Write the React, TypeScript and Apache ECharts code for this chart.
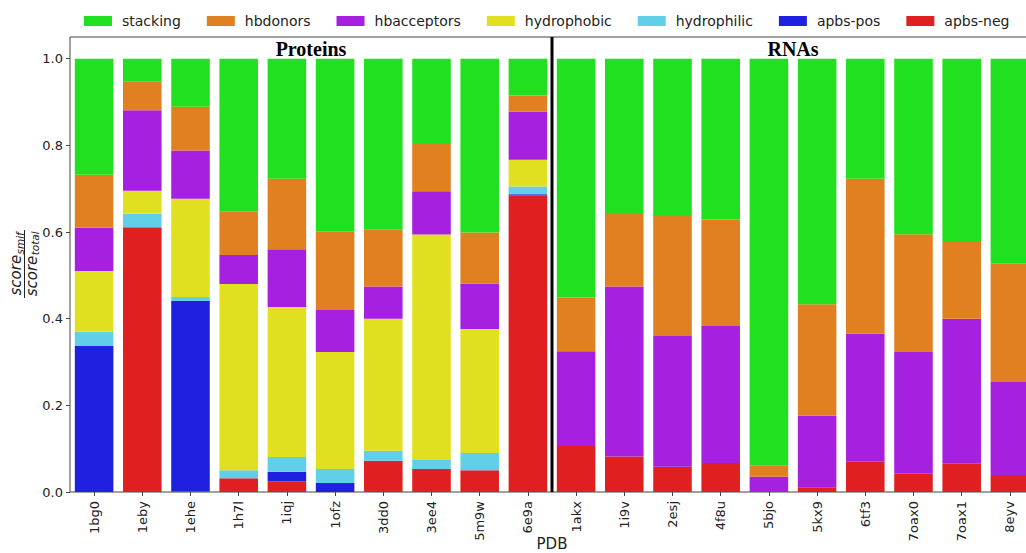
import React, { useEffect, useRef } from "react";
import * as echarts from "echarts";

const categories = ["1bg0", "1eby", "1ehe", "1h7l", "1iqj", "1ofz", "3dd0", "3ee4", "5m9w", "6e9a", "1akx", "1i9v", "2esj", "4f8u", "5bjo", "5kx9", "6tf3", "7oax0", "7oax1", "8eyv"];
const apbsNeg = [0, 0.611, 0.002, 0.032, 0.025, 0, 0.072, 0.053, 0.05, 0.685, 0.106, 0.082, 0.058, 0.067, 0, 0.011, 0.07, 0.042, 0.065, 0.039];
const apbsPos = [0.337, 0, 0.439, 0, 0.022, 0.021, 0, 0, 0, 0.002, 0, 0, 0, 0, 0, 0, 0, 0, 0, 0];
const hydrophilic = [0.033, 0.031, 0.009, 0.018, 0.034, 0.032, 0.023, 0.021, 0.04, 0.018, 0, 0, 0, 0, 0, 0, 0, 0, 0, 0];
const hydrophobic = [0.14, 0.053, 0.227, 0.43, 0.346, 0.27, 0.305, 0.52, 0.286, 0.062, 0, 0, 0, 0, 0, 0, 0, 0, 0, 0];
const hbacceptors = [0.1, 0.186, 0.111, 0.067, 0.133, 0.097, 0.074, 0.1, 0.105, 0.111, 0.219, 0.392, 0.302, 0.316, 0.035, 0.165, 0.296, 0.281, 0.335, 0.215];
const hbdonors = [0.122, 0.066, 0.101, 0.1, 0.163, 0.182, 0.131, 0.109, 0.118, 0.037, 0.124, 0.17, 0.279, 0.246, 0.027, 0.257, 0.357, 0.272, 0.177, 0.274];
const stacking = [0.268, 0.053, 0.111, 0.353, 0.277, 0.398, 0.395, 0.197, 0.401, 0.085, 0.551, 0.356, 0.361, 0.371, 0.938, 0.567, 0.277, 0.405, 0.423, 0.472];
const yTicks = [0, 0.2, 0.4, 0.6, 0.8, 1.0];
const groupTitles = ["Proteins", "RNAs"];
const xAxisTitle = "PDB";

const seriesDefs = [
  { name: "apbs-neg", data: apbsNeg, color: "#e02020" },
  { name: "apbs-pos", data: apbsPos, color: "#2020e0" },
  { name: "hydrophilic", data: hydrophilic, color: "#62cfe9" },
  { name: "hydrophobic", data: hydrophobic, color: "#e0e020" },
  { name: "hbacceptors", data: hbacceptors, color: "#a620e0" },
  { name: "hbdonors", data: hbdonors, color: "#e08020" },
  { name: "stacking", data: stacking, color: "#20e020" },
];
const legendOrder = ["stacking", "hbdonors", "hbacceptors", "hydrophobic", "hydrophilic", "apbs-pos", "apbs-neg"];

const FONT = "DejaVu Sans";

export default function App() {
  const ref = useRef<HTMLDivElement>(null);
  useEffect(() => {
    if (!ref.current) return;
    const chart = echarts.init(ref.current, undefined, { renderer: "svg" });
    const option: any = {
      animation: false,
      backgroundColor: "#ffffff",
      textStyle: { fontFamily: FONT },
      legend: {
        data: legendOrder,
        left: 84,
        top: 14,
        width: 1000,
        padding: 0,
        itemWidth: 28,
        itemHeight: 10,
        itemGap: 26,
        icon: "rect",
        textStyle: { fontFamily: FONT, fontSize: 14, color: "#222", padding: [0, 0, 0, 5] },
      },
      grid: {
        left: 70,
        top: 37,
        width: 964,
        height: 455,
        show: true,
        borderColor: "#444",
        borderWidth: 1,
        backgroundColor: "transparent",
        containLabel: false,
        outerBoundsMode: "none",
      },
      xAxis: {
        type: "category",
        data: categories,
        boundaryGap: true,
        axisLine: { show: false },
        axisTick: { show: true, alignWithLabel: true, length: 4, lineStyle: { color: "#444" } },
        axisLabel: { rotate: 90, fontSize: 13, fontFamily: FONT, color: "#222", margin: 9, interval: 0 },
      },
      yAxis: {
        type: "value",
        min: 0,
        max: 1.05,
        interval: 0.2,
        splitLine: { show: false },
        axisLine: { show: false },
        axisTick: { show: true, length: 4, lineStyle: { color: "#444" }, customValues: yTicks },
        axisLabel: {
          fontSize: 13,
          fontFamily: FONT,
          color: "#222",
          margin: 7,
          customValues: yTicks,
          formatter: (v: number) => v.toFixed(1),
        },
      },
      series: seriesDefs.map((s) => ({
        name: s.name,
        type: "bar",
        stack: "total",
        barWidth: "80%",
        data: s.data,
        itemStyle: { color: s.color },
      })),
    };
    chart.setOption(option);

    const px = (c: string) => chart.convertToPixel({ xAxisIndex: 0 }, c) as number;
    const py = (v: number) => chart.convertToPixel({ yAxisIndex: 0 }, v) as number;
    const xDiv = (px(categories[9]) + px(categories[10])) / 2;
    const yTop = py(1.05);
    const yBot = py(0);
    const protCenter = (px(categories[0]) + px(categories[9])) / 2;
    const rnaCenter = (px(categories[10]) + px(categories[19])) / 2;
    const axisCenter = (px(categories[0]) + px(categories[19])) / 2;

    const labelMain = 15;
    const labelSub = 10.5;
    const italic = { fontFamily: FONT, fontStyle: "italic", fill: "#222" };

    chart.setOption({
      graphic: [
        {
          type: "line",
          shape: { x1: xDiv, y1: yTop, x2: xDiv, y2: yBot },
          style: { stroke: "#000", lineWidth: 3 },
          z: 100,
        },
        {
          type: "text",
          x: protCenter,
          y: 49,
          style: {
            text: groupTitles[0],
            fontFamily: "Liberation Serif",
            fontWeight: "bold",
            fontSize: 20,
            fill: "#000",
            align: "center",
            verticalAlign: "middle",
          },
          z: 100,
        },
        {
          type: "text",
          x: rnaCenter,
          y: 49,
          style: {
            text: groupTitles[1],
            fontFamily: "Liberation Serif",
            fontWeight: "bold",
            fontSize: 20,
            fill: "#000",
            align: "center",
            verticalAlign: "middle",
          },
          z: 100,
        },
        {
          type: "text",
          x: axisCenter,
          y: 544,
          style: {
            text: xAxisTitle,
            fontFamily: FONT,
            fontSize: 15,
            fill: "#222",
            align: "center",
            verticalAlign: "middle",
          },
        },
        {
          type: "group",
          x: 24.5,
          y: 264,
          rotation: Math.PI / 2,
          children: [
            { type: "text", x: -31.5, y: -1, style: { ...italic, text: "score", fontSize: labelMain, align: "left", verticalAlign: "bottom" } },
            { type: "text", x: 9.5, y: 1, style: { ...italic, text: "smif", fontSize: labelSub, align: "left", verticalAlign: "bottom" } },
            { type: "line", shape: { x1: -34, y1: 0, x2: 34, y2: 0 }, style: { stroke: "#222", lineWidth: 1 } },
            { type: "text", x: -32.3, y: 0, style: { ...italic, text: "score", fontSize: labelMain, align: "left", verticalAlign: "top" } },
            { type: "text", x: 8.7, y: 5, style: { ...italic, text: "total", fontSize: labelSub, align: "left", verticalAlign: "top" } },
          ],
        },
      ],
    });

    return () => chart.dispose();
  }, []);
  return (
    <div
      ref={ref}
      style={{ position: "fixed", left: 0, top: 0, width: 1026, height: 553, background: "#fff" }}
    />
  );
}
